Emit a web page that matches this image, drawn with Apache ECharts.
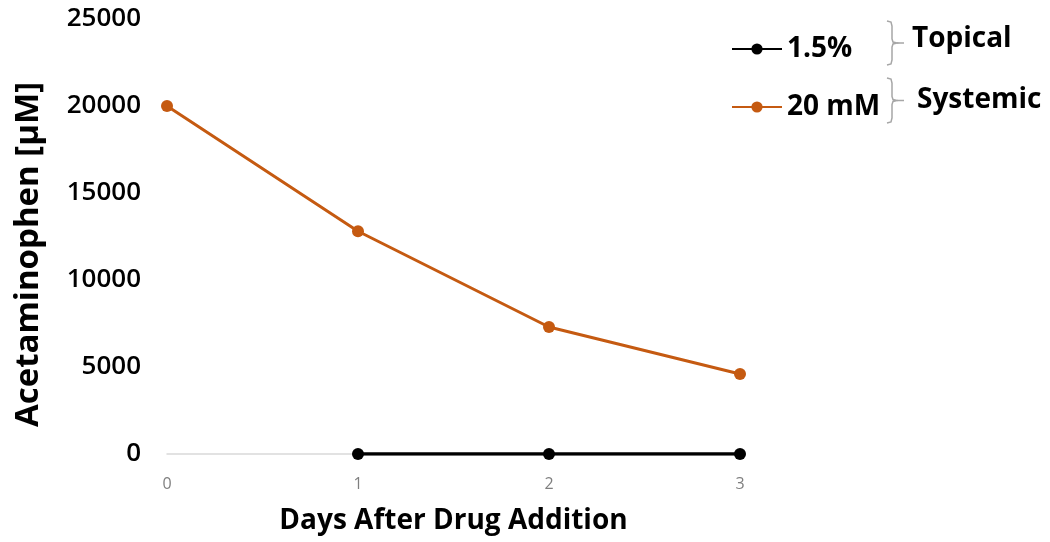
<!DOCTYPE html>
<html><head><meta charset="utf-8">
<script src="https://cdn.jsdelivr.net/npm/echarts@6/dist/echarts.min.js"></script>
<style>html,body{margin:0;padding:0;background:#fff}#c{width:1050px;height:542px}</style>
</head><body><div id="c"></div>
<script>
const days = ['0', '1', '2', '3'];
const topical = [null, 0, 0, 0];
const systemic = [20000, 12800, 7300, 4600];
const yTicks = [0, 5000, 10000, 15000, 20000, 25000];
const FONT = '"Open Sans", "Liberation Sans", sans-serif';

function brace(x, y1, y2) {
  const m = (y1 + y2) / 2;
  return [
    { type: 'polyline', shape: { points: [[x - 5, y1], [x - 1, y1 + 1], [x, y1 + 5], [x, m - 4], [x + 1, m - 1], [x + 5, m], [x + 1, m + 1], [x, m + 4], [x, y2 - 5], [x - 1, y2 - 1], [x - 5, y2]] },
      style: { stroke: '#a6a6a6', fill: null, lineWidth: 1.5 } },
    { type: 'line', shape: { x1: x + 5, y1: m, x2: x + 12, y2: m }, style: { stroke: '#a6a6a6', lineWidth: 1.5 } }
  ];
}

const chart = echarts.init(document.getElementById('c'));
chart.setOption({
  animation: false,
  grid: { left: 167, right: 310, top: 19, bottom: 88 },
  xAxis: {
    type: 'category', data: days, boundaryGap: false,
    axisLine: { lineStyle: { color: '#d9d9d9', width: 1.5 } },
    axisTick: { show: false },
    axisLabel: { color: '#7f7f7f', fontSize: 16, fontFamily: FONT, margin: 22 },
    name: 'Days After Drug Addition', nameLocation: 'middle', nameGap: 53,
    nameTextStyle: { color: '#000', fontSize: 28, fontWeight: 'bold', fontFamily: FONT }
  },
  yAxis: {
    type: 'value', min: yTicks[0], max: yTicks[yTicks.length - 1], interval: 5000,
    splitLine: { show: false },
    axisLine: { show: false }, axisTick: { show: false },
    axisLabel: { color: '#000', fontSize: 26, fontWeight: 600, fontFamily: FONT, margin: 26,
      formatter: v => String(v) },
    name: 'Acetaminophen [µM]', nameLocation: 'middle', nameGap: 122,
    nameTextStyle: { color: '#000', fontSize: 33, fontWeight: 'bold', fontFamily: FONT, padding: [0, 36, 0, 0] }
  },
  legend: {
    orient: 'vertical', left: 726, top: 30, itemGap: 30,
    itemWidth: 50, itemHeight: 14,
    textStyle: { color: '#000', fontSize: 28, fontWeight: 'bold', fontFamily: FONT },
    data: ['1.5%', '20 mM']
  },
  series: [
    { name: '1.5%', type: 'line', data: topical, symbol: 'circle', symbolSize: 12,
      itemStyle: { color: '#000' }, lineStyle: { color: '#000', width: 3.5 } },
    { name: '20 mM', type: 'line', data: systemic, symbol: 'circle', symbolSize: 12,
      itemStyle: { color: '#c55a11' }, lineStyle: { color: '#c55a11', width: 3 } }
  ],
  graphic: [
    ...brace(892, 21, 65),
    ...brace(892, 78, 123),
    { type: 'text', left: 912, top: 25, style: { text: 'Topical', fill: '#000', fontSize: 28, fontWeight: 'bold', fontFamily: FONT } },
    { type: 'text', left: 917, top: 86, style: { text: 'Systemic', fill: '#000', fontSize: 28, fontWeight: 'bold', fontFamily: FONT } }
  ]
});
</script></body></html>
